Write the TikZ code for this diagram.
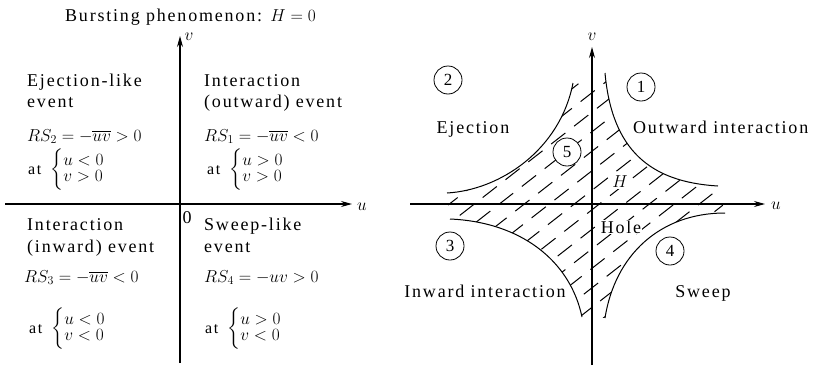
\documentclass[tikz,border=0pt]{standalone}
\usepackage{amsmath}
\usepackage{fontspec}
\setmainfont[LetterSpace=10]{Liberation Serif}
\usetikzlibrary{arrows.meta}

\begin{document}
\begin{tikzpicture}[x=1pt,y=-1pt,
    txt/.style={font=\fontsize{18}{21}\selectfont, inner sep=0pt},
    cnd/.style={font=\fontsize{16}{16}\selectfont, inner sep=0pt},
    num/.style={draw, circle, fill=white, line width=0.8pt, minimum size=28pt, inner sep=0pt, font=\fontsize{17}{17}\selectfont},
    axis/.style={draw, line width=1.1pt, -{Stealth[length=11pt,width=6pt]}},
    curve/.style={line width=1pt},
    hatch/.style={line width=1pt, dash pattern=on 18pt off 11pt}]
    \useasboundingbox (0,0) rectangle (814,375);

    % left panel
    \coordinate (LV0) at (180,363);
    \coordinate (LV1) at (180,36);
    \coordinate (LU0) at (5,204);
    \coordinate (LU1) at (352,204);
    \path
    (LV0) edge[axis] (LV1)
    (LU0) edge[axis] (LU1);
    \node[txt] (LV) at (189,37) {$v$};
    \node[txt] (LU) at (362,207) {$u$};
    \node[txt] (Z) at (187,218) {0};
    \node[txt, anchor=base west] (T) at (65,21) {Bursting phenomenon: $H=0$};

    \node[txt, anchor=base west] (A1) at (27,86) {Ejection-like};
    \node[txt, anchor=base west] (A2) at (27,107) {event};
    \node[txt, anchor=base west] (A3) at (27,141) {$RS_2=-\overline{uv}>0$};
    \node[cnd, anchor=west] (A4) at (28,170) {$\text{at}\hspace{9pt}\biggl\{\begin{array}{@{}l@{}}u<0\\ v>0\end{array}\biggr.$};

    \node[txt, anchor=base west] (B1) at (204,86) {Interaction};
    \node[txt, anchor=base west] (B2) at (204,107) {(outward) event};
    \node[txt, anchor=base west] (B3) at (204,141) {$RS_1=-\overline{uv}<0$};
    \node[cnd, anchor=west] (B4) at (207,170) {$\text{at}\hspace{9pt}\biggl\{\begin{array}{@{}l@{}}u>0\\ v>0\end{array}\biggr.$};

    \node[txt, anchor=base west] (C1) at (27,230) {Interaction};
    \node[txt, anchor=base west] (C2) at (27,252) {(inward) event};
    \node[txt, anchor=base west] (C3) at (24,282) {$RS_3=-\overline{uv}<0$};
    \node[cnd, anchor=west] (C4) at (29,329) {$\text{at}\hspace{9pt}\biggl\{\begin{array}{@{}l@{}}u<0\\ v<0\end{array}\biggr.$};

    \node[txt, anchor=base west] (D1) at (204,230) {Sweep-like};
    \node[txt, anchor=base west] (D2) at (204,252) {event};
    \node[txt, anchor=base west] (D3) at (204,282) {$RS_4=-uv>0$};
    \node[cnd, anchor=west] (D4) at (205,329) {$\text{at}\hspace{9pt}\biggl\{\begin{array}{@{}l@{}}u>0\\ v<0\end{array}\biggr.$};

    % right panel
    \coordinate (P1) at (605,73);
    \coordinate (P2) at (718,186);
    \coordinate (P3) at (725,213);
    \coordinate (P4) at (605,318);
    \coordinate (P5) at (582,317);
    \coordinate (P6) at (450,219);
    \coordinate (P7) at (447,193);
    \coordinate (P8) at (573,83);
    \begin{scope}
    \clip (P1) .. controls (612,150) and (650,182) .. (P2) -- (P3)
        .. controls (660,213) and (615,255) .. (P4) -- (P5)
        .. controls (570,260) and (520,222) .. (P6) -- (P7)
        .. controls (500,190) and (560,150) .. (P8) -- cycle;
    \foreach \c [count=\i] in {250,275,...,900} {
        \pgfmathsetmacro\ph{mod(\i*11,29)}
        \draw[hatch, dash phase=\ph pt] (\c-180,344) -- (\c+230,24);
    }
    \end{scope}

    \coordinate (RV0) at (592,365);
    \coordinate (RV1) at (592,47);
    \coordinate (RU0) at (410,204);
    \coordinate (RU1) at (765,204);
    \path
    (RV0) edge[axis] (RV1)
    (RU0) edge[axis] (RU1);
    \node[txt] (RV) at (592,37) {$v$};
    \node[txt] (RU) at (776,206) {$u$};

    \draw[curve] (P1) .. controls (612,150) and (650,182) .. (P2);
    \draw[curve] (P3) .. controls (660,213) and (615,255) .. (P4);
    \draw[curve] (P5) .. controls (570,260) and (520,222) .. (P6);
    \draw[curve] (P7) .. controls (500,190) and (560,150) .. (P8);

    \node[num] (N1) at (641,87) {1};
    \node[num] (N2) at (448,80) {2};
    \node[num] (N3) at (450,246) {3};
    \node[num] (N4) at (670,251) {4};
    \node[num] (N5) at (567,152) {5};

    \node[txt, anchor=base] (EJ) at (473,133) {Ejection};
    \node[txt, anchor=base west] (OI) at (633,133) {Outward interaction};
    \node[txt, fill=white, inner sep=1pt] (H) at (620,182) {$H$};
    \node[txt, anchor=base, fill=white, inner sep=1pt] (HO) at (621,233) {Hole};
    \node[txt, anchor=base] (II) at (485,297) {Inward interaction};
    \node[txt, anchor=base] (SW) at (703,297) {Sweep};
\end{tikzpicture}
\end{document}
